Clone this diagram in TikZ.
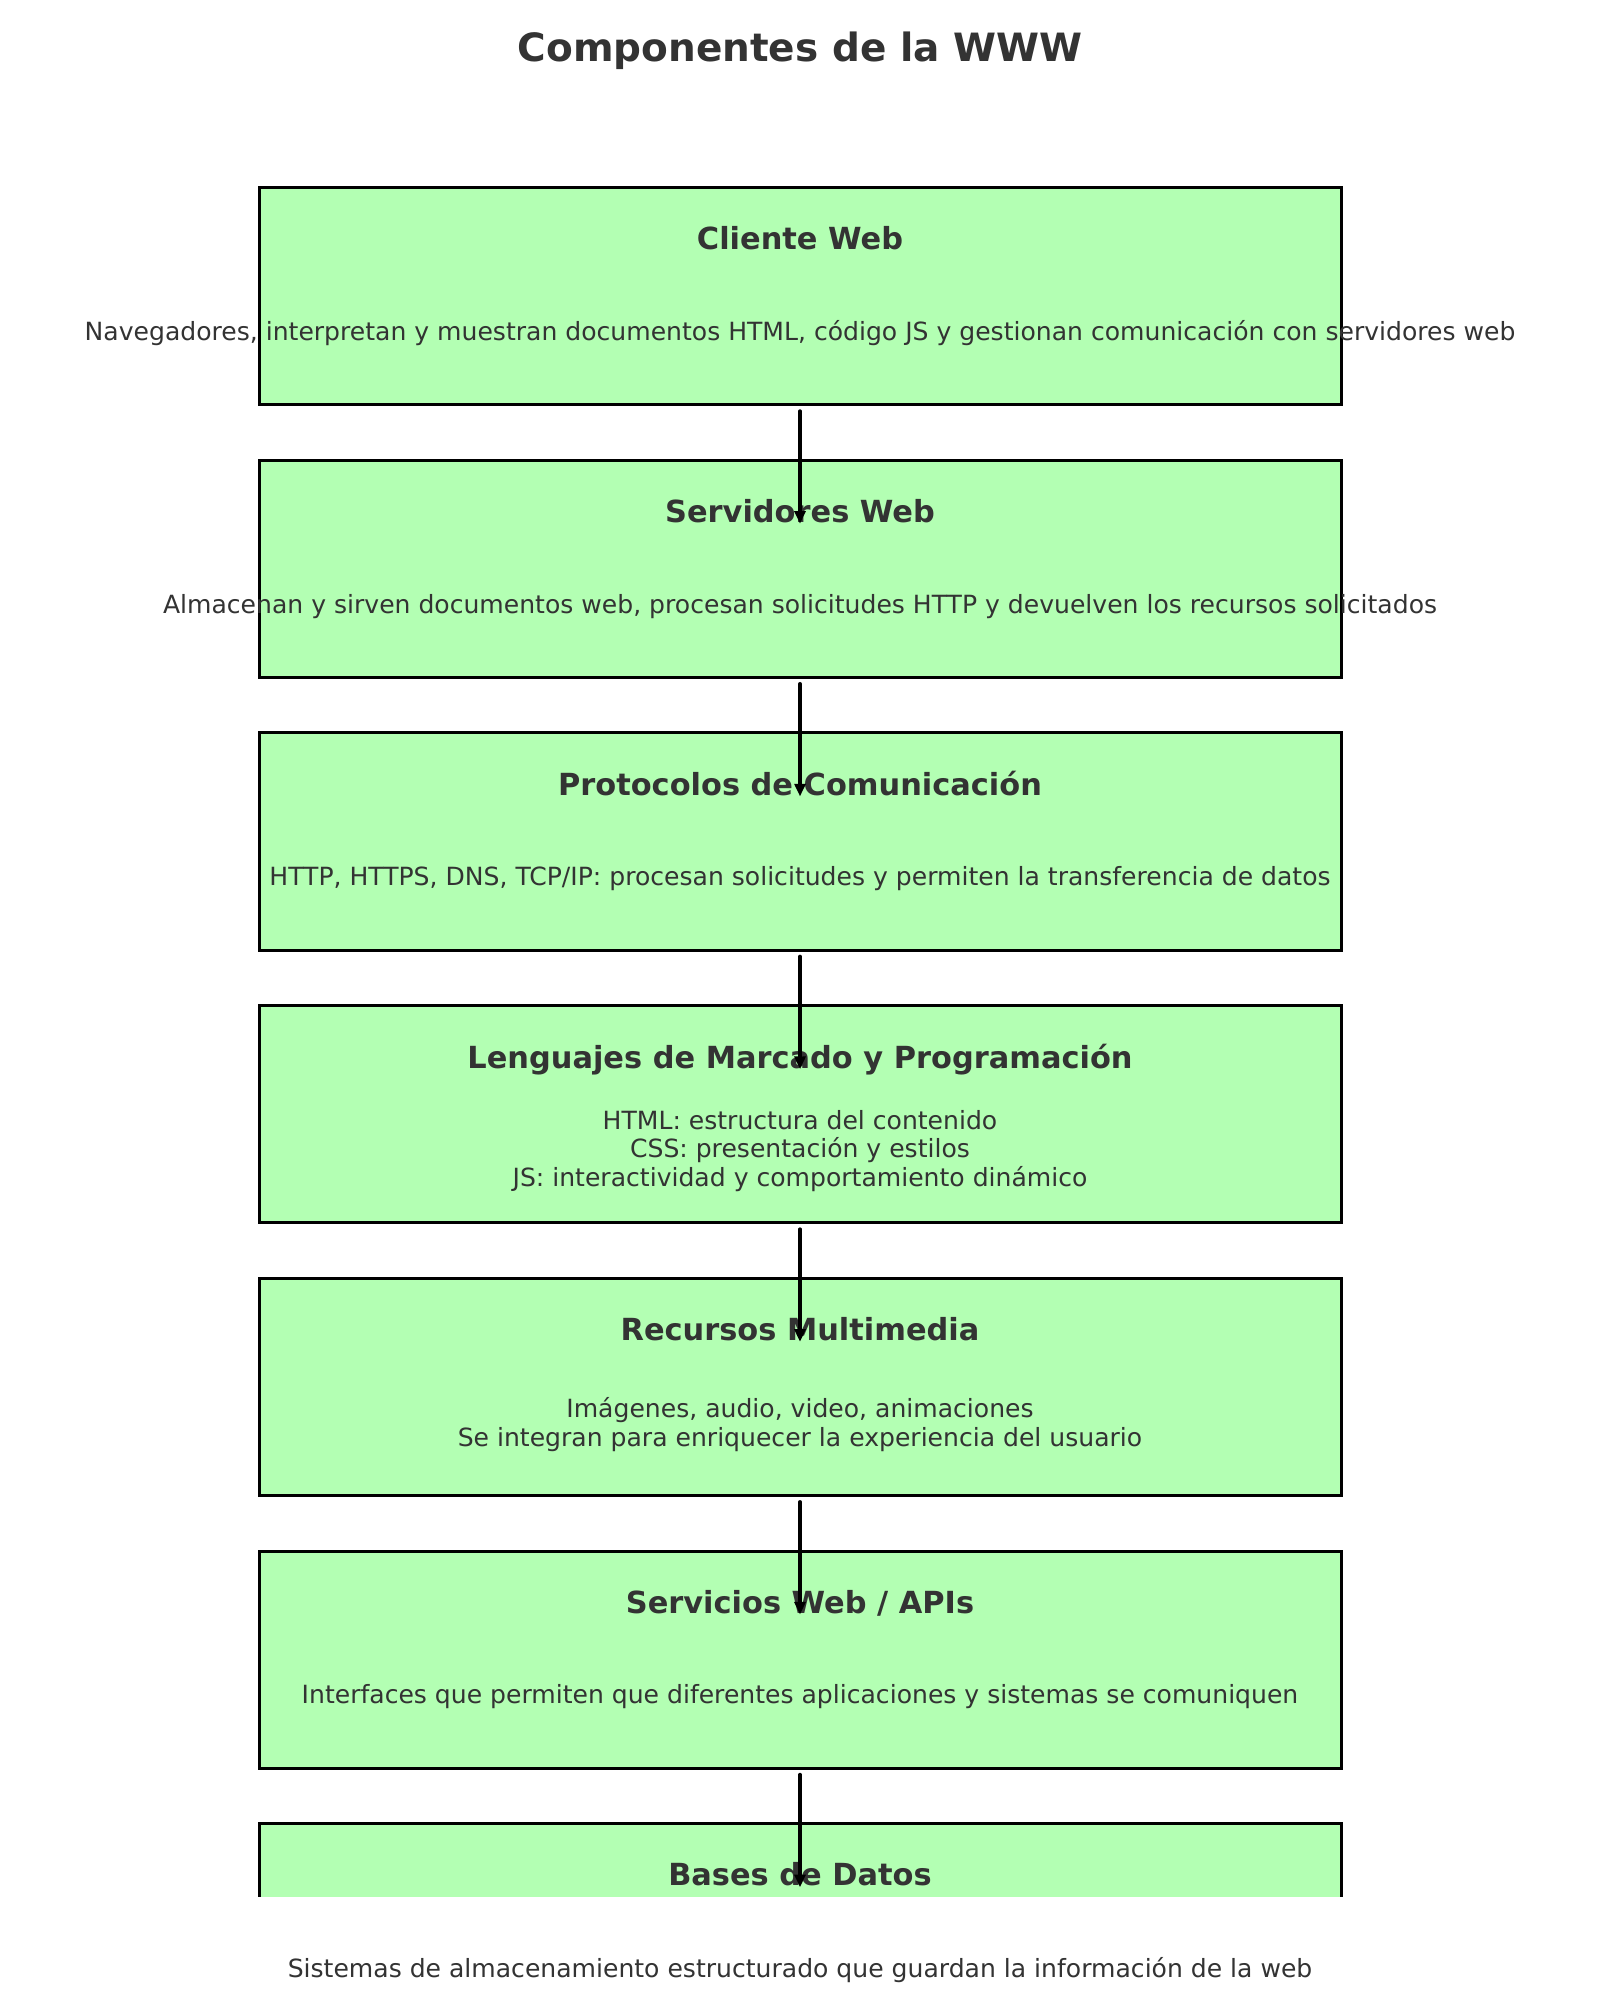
\documentclass[tikz,border=0pt]{standalone}
\usepackage{fontspec}
\setmainfont{DejaVu Sans}
\usetikzlibrary{arrows.meta}
\definecolor{boxgreen}{HTML}{B3FFB3}
\definecolor{ink}{HTML}{333333}
\begin{document}
\begin{tikzpicture}[x=0.01cm,y=-0.01cm,
  compbox/.style={draw=black, line width=0.85pt, fill=boxgreen, inner sep=0pt,
    minimum width=10.82cm, minimum height=2.17cm},
  comptitle/.style={text=ink, text depth=0pt, font={\fontsize{8.65}{10}\selectfont\bfseries}},
  compdesc/.style={text=ink, align=center, font={\fontsize{7.13}{8.1}\selectfont}},
  flow/.style={draw=black, line width=1.05pt, line cap=round,
    -{Triangle[length=3.6pt,width=3.1pt]}}]
\useasboundingbox (0,0) rectangle (1600,2000);
\fill[white] (0,0) rectangle (1600,2000);

% main title
\node[text=ink, font={\fontsize{11.08}{13}\selectfont\bfseries}] (title) at (800,51) {Componentes de la WWW};

% component boxes (the drawing area ends at y = 1896)
\begin{scope}
\clip (0,0) rectangle (1600,1896);
\foreach \i/\t in {1/186,2/458.7,3/731.4,4/1004.1,5/1276.8,6/1549.5,7/1822.2}
  \node[compbox, anchor=north] (b\i) at (800.5,\t) {};
\end{scope}

% box titles
\node[comptitle] (t1) at (800,238) {Cliente Web};
\node[comptitle] (t2) at (800,510.7) {Servidores Web};
\node[comptitle] (t3) at (800,783.4) {Protocolos de Comunicación};
\node[comptitle] (t4) at (800,1056.1) {Lenguajes de Marcado y Programación};
\node[comptitle] (t5) at (800,1328.8) {Recursos Multimedia};
\node[comptitle] (t6) at (800,1601.5) {Servicios Web / APIs};
\node[comptitle] (t7) at (800,1874.2) {Bases de Datos};

% descriptions
\node[compdesc] (d1) at (800,333.5) {Navegadores, interpretan y muestran documentos HTML, código JS y gestionan comunicación con servidores web};
\node[compdesc] (d2) at (800,606.2) {Almacenan y sirven documentos web, procesan solicitudes HTTP y devuelven los recursos solicitados};
\node[compdesc] (d3) at (800,878.9) {HTTP, HTTPS, DNS, TCP/IP: procesan solicitudes y permiten la transferencia de datos};
\node[compdesc] (d4) at (800,1150.6) {HTML: estructura del contenido\\CSS: presentación y estilos\\JS: interactividad y comportamiento dinámico};
\node[compdesc] (d5) at (800,1424.8) {Imágenes, audio, video, animaciones\\Se integran para enriquecer la experiencia del usuario};
\node[compdesc] (d6) at (800,1697) {Interfaces que permiten que diferentes aplicaciones y sistemas se comuniquen};
\node[compdesc] (d7) at (800,1969.7) {Sistemas de almacenamiento estructurado que guardan la información de la web};

% flow between components
\foreach \a/\b in {1/2,2/3,3/4,4/5,5/6,6/7}
  \draw[flow] ([yshift=-0.05cm]b\a.south -| t\a.south) -- ([yshift=-0.65cm]b\b.north -| t\b.south);
\end{tikzpicture}
\end{document}
